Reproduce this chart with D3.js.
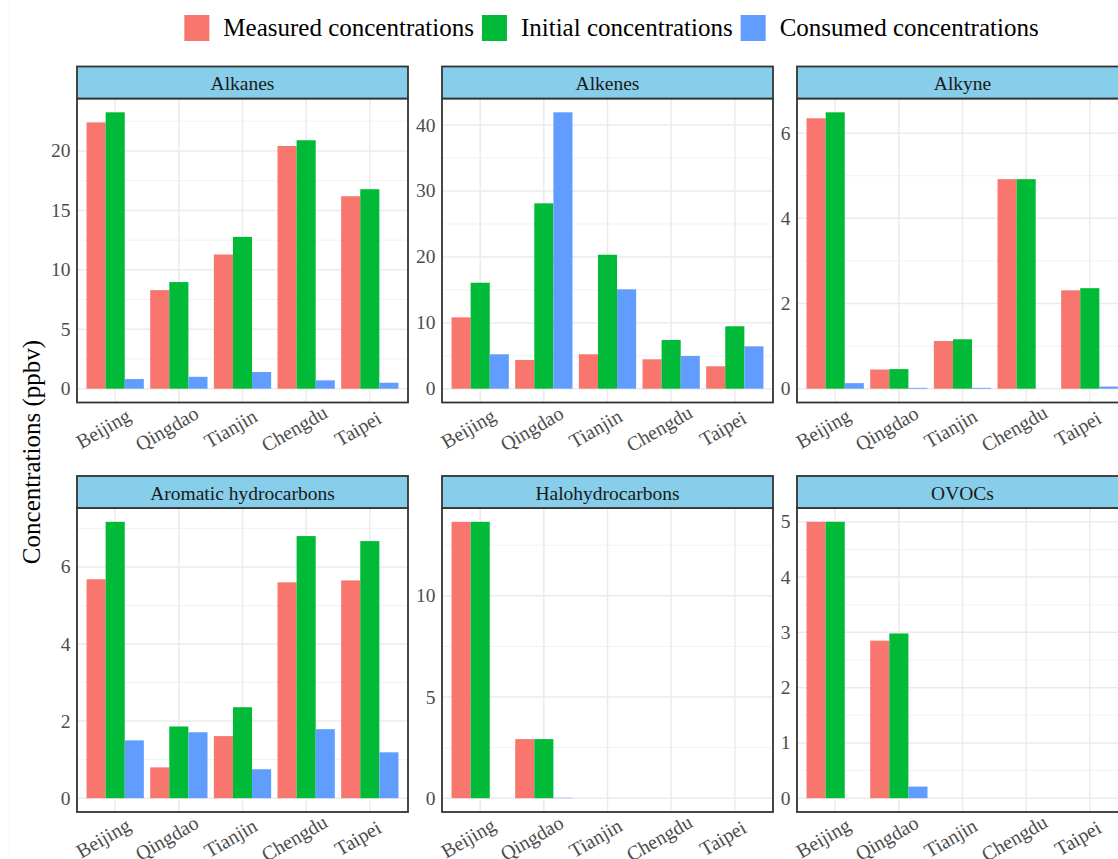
<!DOCTYPE html>
<html>
<head>
<meta charset="utf-8">
<script src="https://cdn.jsdelivr.net/npm/d3@7"></script>
<style>
  html, body { margin: 0; padding: 0; background: #ffffff; }
  svg { display: block; font-family: "Liberation Serif", "Times New Roman", serif; }
</style>
</head>
<body>
<svg id="chart" width="1118" height="859"></svg>
<script>
// Sites shown on every facet's x axis
const cities = ["Beijing", "Qingdao", "Tianjin", "Chengdu", "Taipei"];

// VOC groups, one facet each (row-major order)
const groups = ["Alkanes", "Alkenes", "Alkyne", "Aromatic hydrocarbons", "Halohydrocarbons", "OVOCs"];

// Series names and colours
const seriesNames = ["Measured concentrations", "Initial concentrations", "Consumed concentrations"];
const seriesColors = ["#F8766D", "#00BA38", "#619CFF"];

// Concentrations (ppbv), one row per group, one column per city
const measured = [
  [22.40, 8.29, 11.29, 20.42, 16.19],
  [10.83, 4.36, 5.22, 4.46, 3.40],
  [6.35, 0.45, 1.12, 4.92, 2.31],
  [5.68, 0.80, 1.61, 5.60, 5.65],
  [13.66, 2.92, 0, 0, 0],
  [5.00, 2.85, 0, 0, 0]
];
const initial = [
  [23.25, 8.97, 12.77, 20.90, 16.78],
  [16.08, 28.13, 20.33, 7.39, 9.47],
  [6.49, 0.46, 1.16, 4.92, 2.36],
  [7.17, 1.86, 2.36, 6.80, 6.67],
  [13.66, 2.92, 0, 0, 0],
  [5.00, 2.98, 0, 0, 0]
];
const consumed = [
  [0.81, 1.00, 1.40, 0.70, 0.50],
  [5.22, 41.94, 15.08, 4.96, 6.43],
  [0.13, 0.02, 0.02, 0, 0.05],
  [1.50, 1.71, 0.75, 1.79, 1.19],
  [0, 0.02, 0, 0, 0],
  [0, 0.21, 0, 0, 0]
];

// Labelled y ticks for each facet (free y scales)
const yTicks = [
  [0, 5, 10, 15, 20],
  [0, 10, 20, 30, 40],
  [0, 2, 4, 6],
  [0, 2, 4, 6],
  [0, 5, 10],
  [0, 1, 2, 3, 4, 5]
];

const yTitle = "Concentrations (ppbv)";

// ---- layout ----
const svg = d3.select("#chart");
const colLeft = [77, 442, 797];
const rowTop = [66.5, 476];
const panelW = 331;
const stripH = 32;
const plotH = 304;

const colors = { border: "#333333", strip: "#87CEEB", grid: "#EBEBEB", gridMinor: "#F2F2F2",
                 axisText: "#4D4D4D", stripText: "#1A1A1A" };

// faint outer frame of the plot background
svg.append("line").attr("x1", 9).attr("x2", 9).attr("y1", 0).attr("y2", 859)
  .attr("stroke", "#F6F6F6").attr("stroke-width", 1);

const seriesData = [measured, initial, consumed];

groups.forEach((g, gi) => {
  const col = gi % 3, row = Math.floor(gi / 3);
  const left = colLeft[col];
  const top = rowTop[row] + stripH;
  const panel = svg.append("g").attr("transform", `translate(${left},${top})`);

  // x: discrete with 0.6-unit padding on each side, dodge width 0.9
  const x = d3.scaleBand().domain(cities).range([0, panelW]).paddingInner(0.1).paddingOuter(0.15);
  const xs = d3.scaleBand().domain(d3.range(seriesNames.length)).range([0, x.bandwidth()]);

  // y: 5% expansion around [0, max]
  const maxV = d3.max(seriesData, s => d3.max(s[gi]));
  const y = d3.scaleLinear().domain([-0.05 * maxV, maxV * 1.05]).range([plotH, 0]);

  const clipId = "clip" + gi;
  panel.append("clipPath").attr("id", clipId)
    .append("rect").attr("width", panelW).attr("height", plotH);
  const inner = panel.append("g").attr("clip-path", `url(#${clipId})`);

  // minor gridlines (midpoints between labelled ticks, within the domain)
  const ticks = yTicks[gi];
  const stepT = ticks[1] - ticks[0];
  const [d0, d1] = y.domain();
  const minor = [];
  for (let v = ticks[0] - stepT / 2; v <= d1; v += stepT) if (v >= d0) minor.push(v);
  inner.selectAll("line.minor").data(minor).join("line")
    .attr("x1", 0).attr("x2", panelW)
    .attr("y1", d => y(d)).attr("y2", d => y(d))
    .attr("stroke", colors.gridMinor).attr("stroke-width", 1);

  // major gridlines
  inner.selectAll("line.majorY").data(ticks).join("line")
    .attr("x1", 0).attr("x2", panelW)
    .attr("y1", d => y(d)).attr("y2", d => y(d))
    .attr("stroke", colors.grid).attr("stroke-width", 1.5);
  inner.selectAll("line.majorX").data(cities).join("line")
    .attr("x1", d => x(d) + x.bandwidth() / 2).attr("x2", d => x(d) + x.bandwidth() / 2)
    .attr("y1", 0).attr("y2", plotH)
    .attr("stroke", colors.grid).attr("stroke-width", 1.5);

  // bars
  seriesData.forEach((s, si) => {
    inner.selectAll(null).data(s[gi]).join("rect")
      .attr("x", (d, i) => x(cities[i]) + xs(si))
      .attr("width", xs.bandwidth())
      .attr("y", d => y(Math.max(0, d)))
      .attr("height", d => Math.abs(y(d) - y(0)))
      .attr("fill", seriesColors[si]);
  });

  // panel border
  panel.append("rect").attr("width", panelW).attr("height", plotH)
    .attr("fill", "none").attr("stroke", colors.border).attr("stroke-width", 1.8);

  // strip
  const strip = svg.append("g").attr("transform", `translate(${left},${rowTop[row]})`);
  strip.append("rect").attr("width", panelW).attr("height", stripH)
    .attr("fill", colors.strip).attr("stroke", colors.border).attr("stroke-width", 1.8);
  strip.append("text").attr("x", panelW / 2).attr("y", stripH / 2 + 1)
    .attr("text-anchor", "middle").attr("dominant-baseline", "central")
    .attr("font-size", 19.5).attr("fill", colors.stripText).text(g);

  // y tick labels
  panel.selectAll("text.ytick").data(ticks).join("text")
    .attr("x", -6.5).attr("y", d => y(d))
    .attr("text-anchor", "end").attr("dominant-baseline", "central")
    .attr("font-size", 19.5).attr("fill", colors.axisText).text(d => d);

  // x tick labels, rotated
  panel.selectAll("text.xtick").data(cities).join("text")
    .attr("transform", d => `translate(${x(d) + x.bandwidth() / 2 - 12},${plotH + 26}) rotate(-30)`)
    .attr("text-anchor", "middle").attr("dominant-baseline", "central")
    .attr("font-size", 20).attr("fill", colors.axisText).text(d => d);
});

// y-axis title
svg.append("text")
  .attr("transform", "translate(31,452) rotate(-90)")
  .attr("text-anchor", "middle").attr("dominant-baseline", "central")
  .attr("font-size", 25).attr("fill", "#000000").text(yTitle);

// legend (top, centred)
const legend = svg.append("g");
const keySize = 25, keyGap = 14, itemGap = 8;
let cursor = 0;
seriesNames.forEach((name, i) => {
  const item = legend.append("g").attr("transform", `translate(${cursor},0)`);
  item.append("rect").attr("y", 15).attr("width", keySize).attr("height", 26).attr("fill", seriesColors[i]);
  const t = item.append("text").attr("x", keySize + keyGap).attr("y", 27)
    .attr("dominant-baseline", "central").attr("font-size", 25).attr("fill", "#000000").text(name);
  cursor += keySize + keyGap + t.node().getComputedTextLength() + itemGap;
});
const legendW = cursor - itemGap;
legend.attr("transform", `translate(${611.5 - legendW / 2},0)`);
</script>
</body>
</html>
